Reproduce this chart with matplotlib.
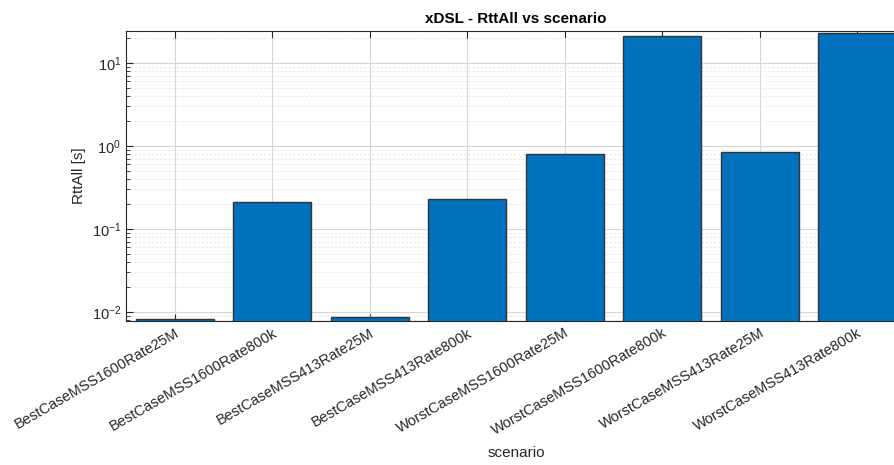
import numpy as np
import matplotlib
matplotlib.use("Agg")
import matplotlib.pyplot as plt
from matplotlib.ticker import LogLocator, NullFormatter

plt.rcParams['font.family'] = ['Liberation Sans', 'DejaVu Sans']

escenarios = ['BestCaseMSS1600Rate25M', 'BestCaseMSS1600Rate800k',
              'BestCaseMSS413Rate25M', 'BestCaseMSS413Rate800k',
              'WorstCaseMSS1600Rate25M', 'WorstCaseMSS1600Rate800k',
              'WorstCaseMSS413Rate25M', 'WorstCaseMSS413Rate800k']
rtt = [0.0082, 0.211, 0.0088, 0.23, 0.80, 21.1, 0.85, 22.8]

gris = '#262626'

fig = plt.figure(figsize=(8.95, 4.65), dpi=100)
ax = fig.add_axes([0.1408, 0.3097, 0.8715, 0.6237])

x = np.arange(1, len(escenarios) + 1)
ax.bar(x, rtt, width=0.8, color='#0072BD', edgecolor='#333333', linewidth=1.0, zorder=3)

ax.set_yscale('log')
ax.set_ylim(0.0078, 24.3)
ax.set_xlim(0.5, 8.5)

ax.set_xticks(x)
ax.set_xticklabels(escenarios, rotation=30, ha='right', rotation_mode='anchor', fontsize=10.5, color=gris)
ax.yaxis.set_major_locator(LogLocator(base=10, numticks=10))
ax.yaxis.set_minor_locator(LogLocator(base=10, subs=np.arange(2, 10), numticks=20))
ax.yaxis.set_minor_formatter(NullFormatter())

# grilla estilo matlab
ax.grid(True, which='major', color='#d6d6d6', linewidth=0.8, zorder=0)
ax.grid(True, which='minor', axis='y', color='#e6e6e6', linestyle=(0, (3, 2)), linewidth=0.6, zorder=0)
ax.set_axisbelow(True)

ax.tick_params(axis='both', which='both', direction='in', colors=gris, labelsize=10.5)
ax.tick_params(axis='x', which='major', top=True, length=5)
ax.tick_params(axis='y', which='major', length=5)
ax.tick_params(axis='y', which='minor', length=3)
for s in ax.spines.values():
    s.set_color(gris)
    s.set_linewidth(0.8)

ax.set_title('xDSL - RttAll vs scenario', fontsize=11, fontweight='bold', color='black', pad=6)
ax.set_ylabel('RttAll [s]', fontsize=11, color=gris)
ax.set_xlabel('scenario', fontsize=11, color=gris)
ax.xaxis.set_label_coords(0.5, -0.43)

fig.savefig('out.png', dpi=100)
